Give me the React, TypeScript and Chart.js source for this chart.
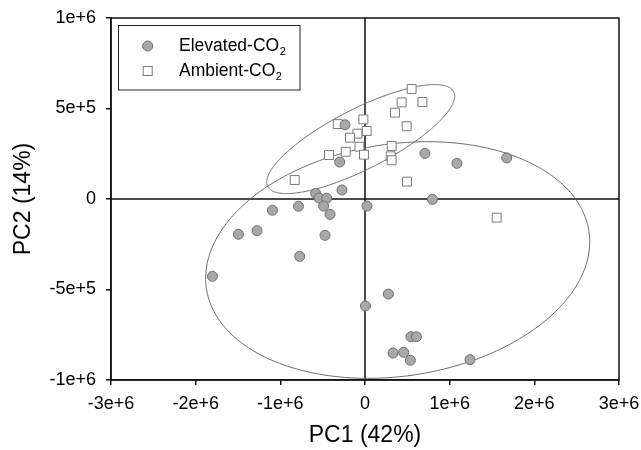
import React, { useEffect, useRef } from 'react';
import { Chart, registerables } from 'chart.js';

Chart.register(...registerables);

const FONT = "'Liberation Sans', Arial, Helvetica, sans-serif";

const seriesNames = ['Elevated-CO₂', 'Ambient-CO₂'];

const elevatedX = [-236000, -299000, -272000, -582000, -543000, -452000, -488000, -413000, 24000, 796000, -786000, -1093000, -1275000, -1495000, -472000, -771000, -1802000, 276000, 5000, 543000, 607000, 331000, 457000, 536000, 1240000, 708000, 1086000, 1673000];
const elevatedY = [410000, 204000, 50000, 31000, 6000, 4000, -39000, -85000, -39000, -2000, -40000, -62000, -175000, -195000, -201000, -317000, -427000, -525000, -591000, -761000, -761000, -851000, -847000, -891000, -888000, 252000, 197000, 227000];

const ambientX = [551000, 433000, 678000, 354000, 492000, -19000, 20000, -90000, -177000, -322000, -66000, -228000, -425000, -12000, 315000, 303000, 315000, 496000, -830000, 1555000];
const ambientY = [608000, 534000, 536000, 477000, 402000, 440000, 376000, 361000, 339000, 414000, 289000, 261000, 243000, 245000, 293000, 236000, 214000, 96000, 105000, -103000];

const xTickValues = [-3e6, -2e6, -1e6, 0, 1e6, 2e6, 3e6];
const xTickLabels = ['-3e+6', '-2e+6', '-1e+6', '0', '1e+6', '2e+6', '3e+6'];
const yTickValues = [-1e6, -5e5, 0, 5e5, 1e6];
const yTickLabels = ['-1e+6', '-5e+5', '0', '5e+5', '1e+6'];

const xTitle = 'PC1 (42%)';
const yTitle = 'PC2 (14%)';

// Confidence ellipses (units of 1e6): centre and spread (xx, yy, xy)
const ellipseCenterX = [0.386, -0.051];
const ellipseCenterY = [-0.337, 0.331];
const ellipseSxx = [5.1436, 1.2317];
const ellipseSyy = [0.4273, 0.09066];
const ellipseSxy = [0.2283, 0.2637];

const overlayPlugin = {
  id: 'overlay',
  beforeDatasetsDraw(chart: any) {
    const { ctx, chartArea: a, scales } = chart;
    const xs = scales.x;
    const ys = scales.y;
    ctx.save();
    ctx.strokeStyle = '#111';
    ctx.lineWidth = 1.5;
    const x0 = xs.getPixelForValue(0);
    const y0 = ys.getPixelForValue(0);
    ctx.beginPath();
    ctx.moveTo(x0, a.top);
    ctx.lineTo(x0, a.bottom);
    ctx.moveTo(a.left, y0);
    ctx.lineTo(a.right, y0);
    ctx.stroke();

    ctx.beginPath();
    ctx.rect(a.left, a.top, a.right - a.left, a.bottom - a.top);
    ctx.clip();
    ctx.strokeStyle = '#6b6b6b';
    ctx.lineWidth = 1;
    for (let i = 0; i < ellipseCenterX.length; i++) {
      const ux = Math.sqrt(ellipseSxx[i]);
      const uy = ellipseSxy[i] / ux;
      const vy = Math.sqrt(Math.max(ellipseSyy[i] - uy * uy, 0));
      ctx.beginPath();
      for (let k = 0; k <= 360; k++) {
        const t = (k / 360) * Math.PI * 2;
        const ex = ellipseCenterX[i] + ux * Math.cos(t);
        const ey = ellipseCenterY[i] + uy * Math.cos(t) + vy * Math.sin(t);
        const px = xs.getPixelForValue(ex * 1e6);
        const py = ys.getPixelForValue(ey * 1e6);
        if (k === 0) ctx.moveTo(px, py);
        else ctx.lineTo(px, py);
      }
      ctx.closePath();
      ctx.stroke();
    }
    ctx.restore();
  },
  afterDraw(chart: any) {
    const { ctx, chartArea: a } = chart;
    ctx.save();
    ctx.strokeStyle = '#111';
    ctx.lineWidth = 1.5;
    ctx.strokeRect(a.left, a.top, a.right - a.left, a.bottom - a.top);

    // legend box
    ctx.lineWidth = 1;
    ctx.strokeStyle = '#222';
    ctx.strokeRect(118.5, 25.5, 181.5, 64.5);
    const rows = [46, 71];
    ctx.textBaseline = 'middle';
    ctx.fillStyle = '#000';
    seriesNames.forEach((name, i) => {
      const yc = rows[i];
      const mx = 147.7;
      if (i === 0) {
        ctx.beginPath();
        ctx.arc(mx, yc, 5, 0, Math.PI * 2);
        ctx.fillStyle = '#a8a8a8';
        ctx.fill();
        ctx.strokeStyle = '#6e6e6e';
        ctx.stroke();
      } else {
        ctx.fillStyle = '#fff';
        ctx.fillRect(mx - 4.5, yc - 4.5, 9, 9);
        ctx.strokeStyle = '#7a7a7a';
        ctx.strokeRect(mx - 4.5, yc - 4.5, 9, 9);
      }
      const hasSub = name.endsWith('₂');
      const base = hasSub ? name.slice(0, -1) : name;
      ctx.fillStyle = '#000';
      ctx.font = `17.5px ${FONT}`;
      ctx.textAlign = 'left';
      ctx.fillText(base, 179, yc);
      if (hasSub) {
        const w = ctx.measureText(base).width;
        ctx.font = `11px ${FONT}`;
        ctx.fillText('2', 179 + w + 0.5, yc + 5.5);
      }
    });
    ctx.restore();
  },
};

export default function App() {
  const ref = useRef<HTMLCanvasElement | null>(null);

  useEffect(() => {
    if (!ref.current) return;
    const elevated = elevatedX.map((x, i) => ({ x, y: elevatedY[i] }));
    const ambient = ambientX.map((x, i) => ({ x, y: ambientY[i] }));
    const chart = new Chart(ref.current, {
      type: 'scatter',
      data: {
        datasets: [
          {
            label: seriesNames[0],
            data: elevated,
            pointStyle: 'circle',
            pointRadius: 5,
            pointHoverRadius: 5,
            pointBackgroundColor: '#a8a8a8',
            pointBorderColor: '#6e6e6e',
            pointBorderWidth: 1,
          },
          {
            label: seriesNames[1],
            data: ambient,
            pointStyle: 'rect',
            pointRadius: 6.3,
            pointHoverRadius: 6.3,
            pointBackgroundColor: '#ffffff',
            pointBorderColor: '#7a7a7a',
            pointBorderWidth: 1,
          },
        ],
      },
      options: {
        animation: false,
        responsive: false,
        devicePixelRatio: 1,
        layout: { padding: { top: 18, right: 22, left: 0, bottom: 0 } },
        plugins: {
          legend: { display: false },
          tooltip: { enabled: false },
        },
        scales: {
          x: {
            type: 'linear',
            min: -3e6,
            max: 3e6,
            afterBuildTicks: (s: any) => {
              s.ticks = xTickValues.map((v) => ({ value: v }));
            },
            afterFit: (s: any) => {
              s.height = 70;
              s.paddingLeft = 0;
              s.paddingRight = 0;
            },
            ticks: {
              color: '#000',
              font: { family: FONT, size: 18 },
              padding: 8,
              maxRotation: 0,
              autoSkip: false,
              callback: (v: any) => {
                const i = xTickValues.indexOf(Number(v));
                return i >= 0 ? xTickLabels[i] : '';
              },
            },
            grid: { drawOnChartArea: false, drawTicks: true, tickLength: 5, tickColor: '#111', lineWidth: 1.5 },
            border: { display: true, color: '#111', width: 1.5 },
            title: {
              display: true,
              text: xTitle,
              color: '#000',
              font: { family: FONT, size: 23 },
              padding: { top: 0, bottom: 1 },
            },
          },
          y: {
            type: 'linear',
            min: -1e6,
            max: 1e6,
            afterBuildTicks: (s: any) => {
              s.ticks = yTickValues.map((v) => ({ value: v }));
            },
            afterFit: (s: any) => {
              s.width = 111;
              s.paddingTop = 0;
              s.paddingBottom = 0;
            },
            ticks: {
              color: '#000',
              font: { family: FONT, size: 18 },
              padding: 10,
              autoSkip: false,
              callback: (v: any) => {
                const i = yTickValues.indexOf(Number(v));
                return i >= 0 ? yTickLabels[i] : '';
              },
            },
            grid: { drawOnChartArea: false, drawTicks: true, tickLength: 5, tickColor: '#111', lineWidth: 1.5 },
            border: { display: true, color: '#111', width: 1.5 },
            title: {
              display: true,
              text: yTitle,
              color: '#000',
              font: { family: FONT, size: 23 },
              padding: { top: 10, bottom: 0 },
            },
          },
        },
      },
      plugins: [overlayPlugin],
    } as any);
    return () => chart.destroy();
  }, []);

  return (
    <div style={{ position: 'absolute', left: 0, top: 0, width: 641, height: 450, background: '#fff' }}>
      <canvas ref={ref} width={641} height={450} style={{ width: 641, height: 450, display: 'block' }} />
    </div>
  );
}
